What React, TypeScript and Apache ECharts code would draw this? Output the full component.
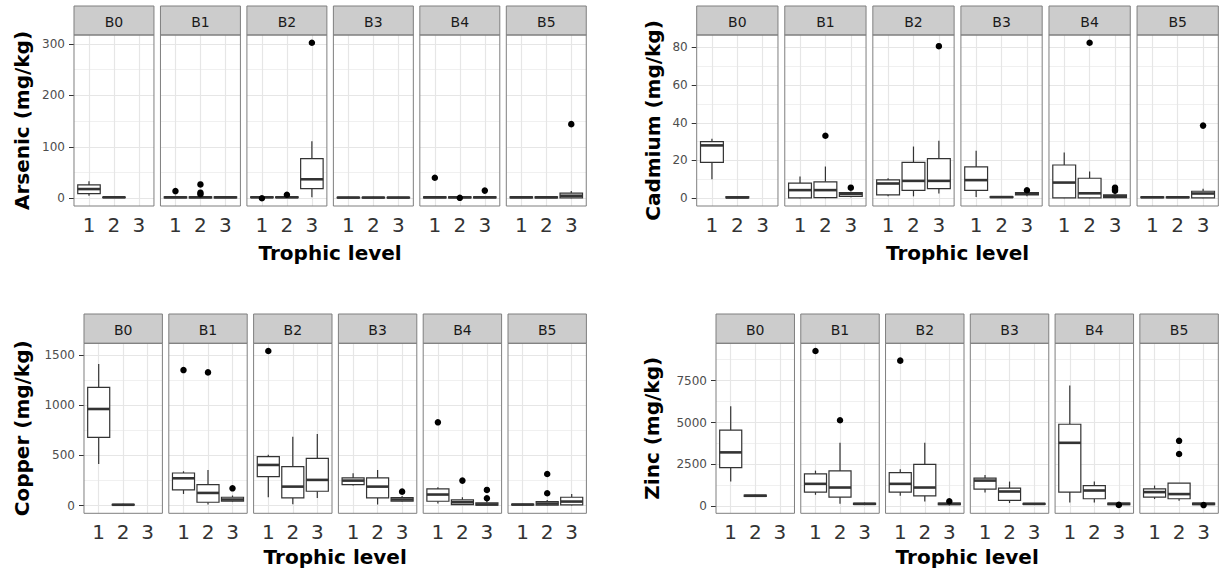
import React, { useEffect, useRef } from 'react';
import * as echarts from 'echarts';

const sites = ['B0', 'B1', 'B2', 'B3', 'B4', 'B5'];
const trophicLevels = ['1', '2', '3'];
const xAxisTitle = 'Trophic level';

// Box rows: [site index, trophic level, lower whisker, Q1, median, Q3, upper whisker]
const arsenicBoxes = [
  [0, 1, 5, 9, 18, 26, 33],
  [0, 2, 1, 1.5, 2, 2.5, 3],
  [1, 1, 0.5, 1, 2, 3, 5],
  [1, 2, 0.5, 1, 2, 3, 5],
  [1, 3, 0.5, 1, 2, 3, 4],
  [2, 1, 1, 1.5, 2, 3, 4],
  [2, 2, 1, 1.5, 2, 3, 4],
  [2, 3, 2, 18.7, 37, 77, 111],
  [3, 1, 0.5, 1, 1.5, 2, 3],
  [3, 2, 0.5, 1, 1.5, 2, 3],
  [3, 3, 0.5, 1, 1.5, 2, 3],
  [4, 1, 0.5, 1, 2, 3, 4],
  [4, 2, 0.5, 1, 2, 3, 4],
  [4, 3, 0.5, 1, 2, 3, 4],
  [5, 1, 0.5, 1, 2, 3, 4],
  [5, 2, 0.5, 1, 2, 3, 4],
  [5, 3, 0.3, 1, 5, 10, 14],
];
// Outlier rows: [site index, trophic level, value]
const arsenicOutliers = [
  [1, 1, 14], [1, 2, 27], [1, 2, 11], [1, 2, 8],
  [2, 1, 0.2], [2, 2, 7], [2, 3, 302],
  [4, 1, 40], [4, 2, 1], [4, 3, 15],
  [5, 3, 144],
];

const cadmiumBoxes = [
  [0, 1, 10, 19, 28, 30, 31.5],
  [0, 2, 0, 0.2, 0.4, 0.8, 1.2],
  [1, 1, 0, 0.2, 4.3, 8, 11.5],
  [1, 2, 0, 0.3, 4.3, 8.7, 16.8],
  [1, 3, 0.5, 1, 2.3, 3, 3.5],
  [2, 1, 1, 1.8, 7.8, 9.7, 10.6],
  [2, 2, 1, 4.2, 9.2, 19, 27.4],
  [2, 3, 2.5, 5.1, 9.2, 21, 30.5],
  [3, 1, 0.7, 4.2, 9.6, 16.6, 25.2],
  [3, 2, 0.2, 0.4, 0.6, 0.8, 1],
  [3, 3, 1, 1.8, 2.4, 3, 3.4],
  [4, 1, 0, 0.2, 8.3, 17.6, 24.3],
  [4, 2, 0, 0.2, 2.6, 10.6, 14.2],
  [4, 3, 0, 0.3, 1, 1.8, 3],
  [5, 1, 0.1, 0.3, 0.5, 0.7, 0.9],
  [5, 2, 0.1, 0.3, 0.5, 0.7, 0.9],
  [5, 3, 0, 0.2, 2.5, 3.7, 5],
];
const cadmiumOutliers = [
  [1, 2, 33.1], [1, 3, 5.6],
  [2, 3, 80.6],
  [3, 3, 4.2],
  [4, 2, 82.4], [4, 3, 5.6], [4, 3, 4.8], [4, 3, 4],
  [5, 3, 38.5],
];

const copperBoxes = [
  [0, 1, 415, 680, 963, 1178, 1411],
  [0, 2, 2, 5, 8, 12, 18],
  [1, 1, 116, 156, 272, 325, 342],
  [1, 2, 10, 33, 126, 209, 355],
  [1, 3, 35, 43, 60, 83, 100],
  [2, 1, 83, 289, 405, 488, 508],
  [2, 2, 12, 76, 189, 388, 687],
  [2, 3, 76, 143, 256, 471, 714],
  [3, 1, 200, 209, 249, 276, 322],
  [3, 2, 10, 76, 189, 276, 355],
  [3, 3, 35, 43, 60, 80, 95],
  [4, 1, 20, 43, 110, 166, 182],
  [4, 2, 5, 10, 33, 57, 83],
  [4, 3, 0, 3, 12, 28, 45],
  [5, 1, 3, 6, 10, 14, 18],
  [5, 2, 0, 5, 20, 40, 55],
  [5, 3, 0, 6, 40, 83, 116],
];
const copperOutliers = [
  [1, 1, 1351], [1, 2, 1328], [1, 3, 172],
  [2, 1, 1541],
  [3, 3, 139],
  [4, 1, 830], [4, 2, 249], [4, 3, 156], [4, 3, 73],
  [5, 2, 315], [5, 2, 123],
];

const zincBoxes = [
  [0, 1, 1481, 2310, 3222, 4544, 5966],
  [0, 2, 560, 590, 634, 680, 700],
  [1, 1, 693, 853, 1345, 1937, 2133],
  [1, 2, 160, 557, 1126, 2115, 3792],
  [1, 3, 80, 120, 150, 190, 230],
  [2, 1, 634, 853, 1345, 2015, 2216],
  [2, 2, 296, 634, 1126, 2512, 3792],
  [2, 3, 50, 100, 150, 200, 260],
  [3, 1, 829, 1031, 1540, 1682, 1878],
  [3, 2, 201, 356, 889, 1090, 1481],
  [3, 3, 90, 120, 150, 180, 210],
  [4, 1, 237, 853, 3792, 4899, 7210],
  [4, 2, 237, 456, 948, 1244, 1481],
  [4, 3, 70, 110, 150, 190, 220],
  [5, 1, 438, 557, 853, 1048, 1244],
  [5, 2, 338, 456, 735, 1386, 1386],
  [5, 3, 70, 110, 150, 190, 220],
];
const zincOutliers = [
  [1, 1, 9265], [1, 2, 5136],
  [2, 1, 8691], [2, 3, 310],
  [4, 3, 90],
  [5, 2, 3910], [5, 2, 3122], [5, 3, 80],
];

const arsenicTicks = [0, 100, 200, 300];
const arsenicMinor = [50, 150, 250];
const cadmiumTicks = [0, 20, 40, 60, 80];
const cadmiumMinor = [10, 30, 50, 70];
const copperTicks = [0, 500, 1000, 1500];
const copperMinor = [250, 750, 1250];
const zincTicks = [0, 2500, 5000, 7500];
const zincMinor = [1250, 3750, 6250, 8750];

const metals = [
  { title: 'Arsenic (mg/kg)', boxes: arsenicBoxes, outliers: arsenicOutliers, ticks: arsenicTicks, minor: arsenicMinor },
  { title: 'Cadmium (mg/kg)', boxes: cadmiumBoxes, outliers: cadmiumOutliers, ticks: cadmiumTicks, minor: cadmiumMinor },
  { title: 'Copper (mg/kg)', boxes: copperBoxes, outliers: copperOutliers, ticks: copperTicks, minor: copperMinor },
  { title: 'Zinc (mg/kg)', boxes: zincBoxes, outliers: zincOutliers, ticks: zincTicks, minor: zincMinor },
];

// layout (pixels)
const layouts = [
  { left: 74, width: 79.96, gap: 6.5, stripTop: 6, plotTop: 35, plotBottom: 206, yTitleX: 22, xTitleY: 253 },
  { left: 696.7, width: 81.27, gap: 6.8, stripTop: 6, plotTop: 35, plotBottom: 206, yTitleX: 653, xTitleY: 253 },
  { left: 84, width: 78.4, gap: 6.4, stripTop: 314, plotTop: 343.3, plotBottom: 513.3, yTitleX: 22, xTitleY: 557 },
  { left: 716, width: 78.47, gap: 6.3, stripTop: 314, plotTop: 343.3, plotBottom: 513.3, yTitleX: 652, xTitleY: 557 },
];

const FONT = '"DejaVu Sans", "Liberation Sans", Arial, sans-serif';
const BOX_COLOR = '#333333';
const BORDER = '#7f7f7f';

function buildOption() {
  const grids: any[] = [];
  const xAxes: any[] = [];
  const yAxes: any[] = [];
  const series: any[] = [];
  const graphics: any[] = [];

  metals.forEach((m, mi) => {
    const L = layouts[mi];
    const vals: number[] = [];
    m.boxes.forEach((b) => { vals.push(b[2], b[6]); });
    m.outliers.forEach((o) => vals.push(o[2]));
    const lo = Math.min(...vals);
    const hi = Math.max(...vals);
    const pad = (hi - lo) * 0.05;
    const yMin = lo - pad;
    const yMax = hi + pad;
    const plotH = L.plotBottom - L.plotTop;

    sites.forEach((site, fi) => {
      const gi = grids.length;
      const x = L.left + fi * (L.width + L.gap);
      grids.push({ left: x, top: L.plotTop, width: L.width, height: plotH, show: true, backgroundColor: '#ffffff', borderWidth: 0 });
      xAxes.push({
        type: 'value', gridIndex: gi, min: 0.4, max: 3.6,
        splitLine: { show: false }, axisLine: { show: false },
        axisTick: { show: true, customValues: [1, 2, 3], length: 5, lineStyle: { color: BOX_COLOR, width: 1 } },
        axisLabel: {
          show: true, customValues: [1, 2, 3], formatter: (v: number) => trophicLevels[Math.round(v) - 1],
          fontSize: 20, color: '#333333', margin: 9, fontFamily: FONT,
        },
      });
      yAxes.push({
        type: 'value', gridIndex: gi, min: yMin, max: yMax,
        splitLine: { show: false }, axisLine: { show: false },
        axisTick: { show: fi === 0, customValues: m.ticks, length: 5, lineStyle: { color: BOX_COLOR, width: 1 } },
        axisLabel: {
          show: fi === 0, customValues: m.ticks, formatter: (v: number) => String(v),
          fontSize: 12, color: '#4d4d4d', margin: 9, fontFamily: FONT,
        },
      });

      const boxData = m.boxes.filter((b) => b[0] === fi).map((b) => [b[1], b[2], b[3], b[4], b[5], b[6]]);
      const outData = m.outliers.filter((o) => o[0] === fi).map((o) => [o[1], o[2]]);

      const gridLines: any[] = [];
      m.ticks.forEach((t) => gridLines.push({ yAxis: t, lineStyle: { color: '#e6e6e6', width: 1.2, type: 'solid' } }));
      m.minor.forEach((t) => { if (t < yMax) gridLines.push({ yAxis: t, lineStyle: { color: '#f0f0f0', width: 1, type: 'solid' } }); });
      [1, 2, 3].forEach((t) => gridLines.push({ xAxis: t, lineStyle: { color: '#e6e6e6', width: 1.2, type: 'solid' } }));

      series.push({
        type: 'custom', xAxisIndex: gi, yAxisIndex: gi, z: 3, silent: true,
        data: boxData, encode: { x: 0, y: [1, 2, 3, 4, 5] },
        renderItem: (params: any, api: any) => {
          const xv = api.value(0);
          const pLo = api.coord([xv, api.value(1)]);
          const pQ1 = api.coord([xv, api.value(2)]);
          const pMed = api.coord([xv, api.value(3)]);
          const pQ3 = api.coord([xv, api.value(4)]);
          const pHi = api.coord([xv, api.value(5)]);
          const w = api.size([0.9, 0])[0];
          const cx = pMed[0];
          const st = { stroke: BOX_COLOR, lineWidth: 1.2, fill: 'none' };
          return {
            type: 'group',
            children: [
              { type: 'line', shape: { x1: cx, y1: pLo[1], x2: cx, y2: pQ1[1] }, style: st },
              { type: 'line', shape: { x1: cx, y1: pQ3[1], x2: cx, y2: pHi[1] }, style: st },
              { type: 'rect', shape: { x: cx - w / 2, y: pQ3[1], width: w, height: Math.max(pQ1[1] - pQ3[1], 0.01) }, style: { stroke: BOX_COLOR, lineWidth: 1.2, fill: '#ffffff' } },
              { type: 'line', shape: { x1: cx - w / 2, y1: pMed[1], x2: cx + w / 2, y2: pMed[1] }, style: { stroke: BOX_COLOR, lineWidth: 2.6 } },
            ],
          };
        },
      });
      series.push({
        type: 'scatter', xAxisIndex: gi, yAxisIndex: gi, z: 4, silent: true,
        data: outData, symbol: 'circle', symbolSize: 6.5, itemStyle: { color: '#000000', opacity: 1 },
        markLine: {
          silent: true, symbol: 'none', z: 1, animation: false, label: { show: false },
          emphasis: { disabled: true },
          data: gridLines,
        },
      });

      // strip
      graphics.push({
        type: 'rect', z: 5,
        shape: { x, y: L.stripTop, width: L.width, height: L.plotTop - L.stripTop },
        style: { fill: '#cccccc', stroke: BORDER, lineWidth: 1 },
      });
      graphics.push({
        type: 'text', z: 6, x: x + L.width / 2, y: (L.stripTop + L.plotTop) / 2 + 1,
        style: { text: site, font: `14px ${FONT}`, fill: '#1a1a1a', align: 'center', verticalAlign: 'middle', textAlign: 'center', textVerticalAlign: 'middle' },
      });
      // panel border
      graphics.push({
        type: 'rect', z: 10,
        shape: { x, y: L.plotTop, width: L.width, height: plotH },
        style: { fill: 'none', stroke: BORDER, lineWidth: 1 },
      });
    });

    const rightEdge = L.left + 6 * L.width + 5 * L.gap;
    graphics.push({
      type: 'text', z: 6, x: (L.left + rightEdge) / 2, y: L.xTitleY,
      style: { text: xAxisTitle, font: `bold 20px ${FONT}`, fill: '#000000', align: 'center', verticalAlign: 'middle', textAlign: 'center', textVerticalAlign: 'middle' },
    });
    graphics.push({
      type: 'text', z: 6, x: L.yTitleX, y: (L.plotTop + L.plotBottom) / 2, rotation: Math.PI / 2,
      style: { text: m.title, font: `bold 20px ${FONT}`, fill: '#000000', align: 'center', verticalAlign: 'middle', textAlign: 'center', textVerticalAlign: 'middle' },
    });
  });

  return {
    animation: false,
    backgroundColor: '#ffffff',
    textStyle: { fontFamily: FONT },
    grid: grids,
    xAxis: xAxes,
    yAxis: yAxes,
    series,
    graphic: { elements: graphics },
  };
}

export default function App() {
  const ref = useRef<HTMLDivElement>(null);
  useEffect(() => {
    if (!ref.current) return;
    const chart = echarts.init(ref.current, null, { renderer: 'svg' });
    chart.setOption(buildOption() as any);
    return () => chart.dispose();
  }, []);
  return <div ref={ref} style={{ position: 'fixed', left: 0, top: 0, width: 1222, height: 579, background: '#ffffff' }} />;
}
